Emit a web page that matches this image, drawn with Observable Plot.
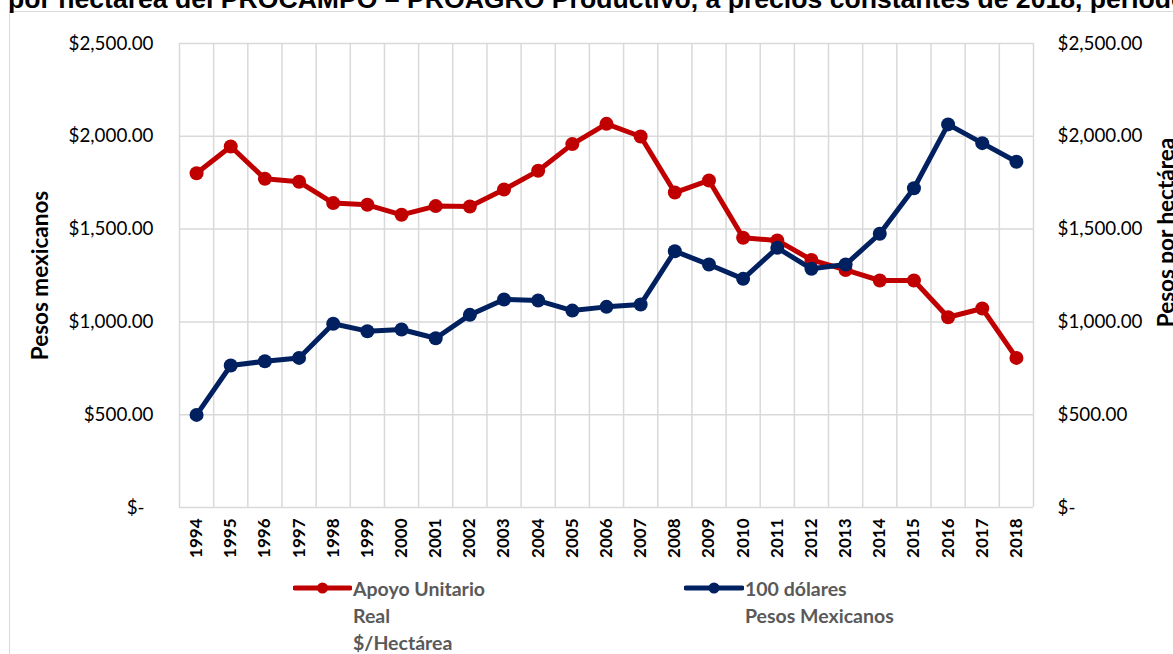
<!DOCTYPE html>
<html>
<head>
<meta charset="utf-8">
<script src="https://cdn.jsdelivr.net/npm/d3@7"></script>
<script src="https://cdn.jsdelivr.net/npm/@observablehq/plot@0.6"></script>
<style>
  html, body { margin: 0; padding: 0; background: #fff; }
  #wrap { position: relative; width: 1173px; height: 654px; overflow: hidden; background: #fff; }
  #frame { position: absolute; left: 9px; top: 11px; width: 1400px; height: 900px;
           border-left: 1.5px solid #d9d9d9; border-top: 1.5px solid #d9d9d9; }
  #title { position: absolute; left: 8px; top: -14px; white-space: nowrap;
           font-family: "Liberation Sans", Arial, sans-serif; font-weight: bold; font-size: 26.6px;
           line-height: 26px; color: #000; }
  #chart { position: absolute; left: 0; top: 0; }
  .leg { position: absolute; font-family: Lato, sans-serif; font-weight: bold; font-size: 19.5px;
         line-height: 27px; color: #595959; }
  .legsym { position: absolute; }
</style>
</head>
<body>
<div id="wrap">
  <div id="frame"></div>
  <div id="chart"></div>
  <div id="title"></div>
</div>
<script>
// ---- data ----
const years = [1994, 1995, 1996, 1997, 1998, 1999, 2000, 2001, 2002, 2003, 2004, 2005, 2006,
               2007, 2008, 2009, 2010, 2011, 2012, 2013, 2014, 2015, 2016, 2017, 2018];
const apoyoUnitario = [1801, 1945, 1771, 1755, 1640, 1631, 1577, 1624, 1622, 1713, 1814, 1958, 2067,
                       1999, 1697, 1762, 1453, 1439, 1334, 1280, 1223, 1223, 1025, 1072, 806];
const cienDolares = [499, 765, 788, 806, 990, 950, 959, 912, 1038, 1121, 1115, 1061, 1081,
                     1094, 1381, 1309, 1232, 1399, 1286, 1309, 1475, 1720, 2064, 1963, 1863];
const yTicks = [0, 500, 1000, 1500, 2000, 2500];
const seriesNames = [["Apoyo Unitario", "Real", "$/Hectárea"], ["100 dólares", "Pesos Mexicanos"]];
const seriesColors = ["#C00000", "#002060"];
const titleText = "por hectárea del PROCAMPO – PROAGRO Productivo, a precios constantes de 2018, periodo";
const leftLabel = "Pesos mexicanos";
const rightLabel = "Pesos por hectárea";

// ---- build ----
const redData = years.map((y, i) => ({year: y, value: apoyoUnitario[i]}));
const blueData = years.map((y, i) => ({year: y, value: cienDolares[i]}));
const boundaries = years.map(y => y - 0.5).concat([years[years.length - 1] + 0.5]);
const fmt = d => d === 0 ? "$-" : "$" + d3.format(",.2f")(d);

const W = 1173, H = 654;
const mL = 179, mR = 140, mT = 43, mB = 147;
const tickFont = 18.8;

const chart = Plot.plot({
  width: W, height: H,
  marginLeft: mL, marginRight: mR, marginTop: mT, marginBottom: mB,
  style: {background: "transparent", fontFamily: "Lato, sans-serif", color: "#000", overflow: "visible"},
  x: {type: "linear", domain: [boundaries[0], boundaries[boundaries.length - 1]]},
  y: {domain: [0, 2500]},
  marks: [
    Plot.ruleY(yTicks, {stroke: "#d9d9d9", strokeWidth: 1.5}),
    Plot.ruleX(boundaries, {stroke: "#d9d9d9", strokeWidth: 1.5}),
    Plot.axisY({anchor: "left", ticks: yTicks.filter(d => d !== 0), tickSize: 0, tickPadding: 26,
                tickFormat: fmt, fontSize: tickFont, label: null}),
    Plot.axisY({anchor: "left", ticks: [0], tickSize: 0, tickPadding: 35,
                tickFormat: fmt, fontSize: tickFont, label: null}),
    Plot.axisY({anchor: "right", ticks: yTicks, tickSize: 0, tickPadding: 24,
                tickFormat: fmt, fontSize: tickFont, label: null}),
    Plot.axisX({ticks: years, tickFormat: d => String(d), tickRotate: -90, tickSize: 0, tickPadding: 11,
                fontSize: 17, fontWeight: "bold", label: null}),
    Plot.text([leftLabel], {frameAnchor: "left", dx: -139, rotate: -90, fontSize: 22.5, fontWeight: "bold",
                            lineAnchor: "middle", textAnchor: "middle", fill: "#000"}),
    Plot.text([rightLabel], {frameAnchor: "right", dx: 1166 - (W - mR), dy: -43, rotate: -90, fontSize: 22.5,
                             fontWeight: "bold", lineAnchor: "middle", textAnchor: "middle", fill: "#000"}),
    Plot.line(redData, {x: "year", y: "value", stroke: seriesColors[0], strokeWidth: 5}),
    Plot.dot(redData, {x: "year", y: "value", r: 7, fill: seriesColors[0], stroke: "none"}),
    Plot.line(blueData, {x: "year", y: "value", stroke: seriesColors[1], strokeWidth: 5}),
    Plot.dot(blueData, {x: "year", y: "value", r: 7, fill: seriesColors[1], stroke: "none"})
  ]
});
document.getElementById("chart").appendChild(chart);
document.getElementById("title").textContent = titleText;

// ---- legend ----
const wrap = document.getElementById("wrap");
const legendPos = [{x0: 295, x1: 350, tx: 353}, {x0: 686, x1: 742, tx: 745}];
const legY = 588;
seriesNames.forEach((lines, i) => {
  const p = legendPos[i];
  const svg = d3.create("svg").attr("class", "legsym")
    .attr("width", p.x1 - p.x0 + 4).attr("height", 16)
    .style("left", (p.x0 - 2) + "px").style("top", (legY - 8) + "px");
  svg.append("line").attr("x1", 2).attr("x2", p.x1 - p.x0 + 2).attr("y1", 8).attr("y2", 8)
    .attr("stroke", seriesColors[i]).attr("stroke-width", 5).attr("stroke-linecap", "round");
  svg.append("circle").attr("cx", (p.x1 - p.x0) / 2 + 2).attr("cy", 8).attr("r", 5.5).attr("fill", seriesColors[i]);
  wrap.appendChild(svg.node());
  const div = document.createElement("div");
  div.className = "leg";
  div.style.left = p.tx + "px";
  div.style.top = (legY - 13.5) + "px";
  div.innerHTML = lines.map(s => s.replace(/&/g, "&amp;").replace(/</g, "&lt;")).join("<br>");
  wrap.appendChild(div);
});
</script>
</body>
</html>
